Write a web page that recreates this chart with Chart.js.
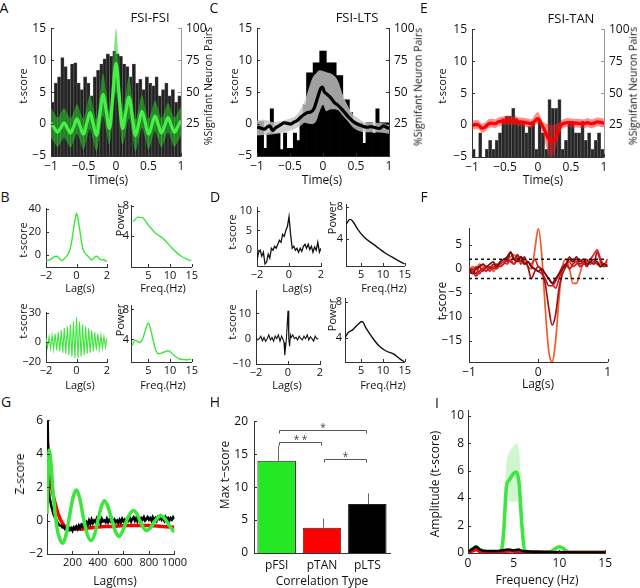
<!DOCTYPE html>
<html><head><meta charset="utf-8">
<script src="https://cdn.jsdelivr.net/npm/chart.js@4.4.1/dist/chart.umd.min.js"></script>
<style>
html,body{margin:0;padding:0;background:#fff;}
#fig{position:relative;width:640px;height:588px;overflow:hidden;background:#fff;font-family:'Open Sans','Noto Sans',sans-serif;color:#111;}
.t{position:absolute;white-space:nowrap;transform:translate(-50%,-50%);line-height:1;}
.r{transform:translate(-50%,-50%) rotate(-90deg);}
canvas{position:absolute;}
</style></head><body><div id="fig"></div>
<script>
// ---------------- DATA ----------------
const HIST_T = [-0.975,-0.925,-0.875,-0.825,-0.775,-0.725,-0.675,-0.625,-0.575,-0.525,-0.475,-0.425,-0.375,-0.325,-0.275,-0.225,-0.175,-0.125,-0.075,-0.025,0.025,0.075,0.125,0.175,0.225,0.275,0.325,0.375,0.425,0.475,0.525,0.575,0.625,0.675,0.725,0.775,0.825,0.875,0.925,0.975];
const T41 = [-1,-0.95,-0.9,-0.85,-0.8,-0.75,-0.7,-0.65,-0.6,-0.55,-0.5,-0.45,-0.4,-0.35,-0.3,-0.25,-0.2,-0.15,-0.1,-0.05,0,0.05,0.1,0.15,0.2,0.25,0.3,0.35,0.4,0.45,0.5,0.55,0.6,0.65,0.7,0.75,0.8,0.85,0.9,0.95,1];
const LAG41 = [-2,-1.9,-1.8,-1.7,-1.6,-1.5,-1.4,-1.3,-1.2,-1.1,-1,-0.9,-0.8,-0.7,-0.6,-0.5,-0.4,-0.3,-0.2,-0.1,0,0.1,0.2,0.3,0.4,0.5,0.6,0.7,0.8,0.9,1,1.1,1.2,1.3,1.4,1.5,1.6,1.7,1.8,1.9,2];

// A: FSI-FSI
const A_SIG_PCT = [42,57,62,77,70,60,72,73,57,52,62,57,47,62,67,72,76,80,78,82,80,78,72,70,62,72,57,60,52,62,57,55,62,47,52,57,47,52,42,47];
const A_MEAN = [0.2,-0.6,-1.3,-0.6,0.2,-0.6,-1.4,-0.4,0.8,-0.4,-1.6,0.1,1.8,0.0,-1.8,1.4,4.6,2.0,-0.7,4.4,9.5,4.4,-0.7,1.8,4.2,1.2,-1.8,0.1,2.0,0.2,-1.6,-0.2,1.3,-0.1,-1.4,-0.2,1.0,-0.2,-1.3,-0.4,0.5];
const A_UP = [2.5,1.7,1.0,1.7,2.5,1.7,0.9,1.9,3.1,1.9,0.8,2.7,4.6,2.6,0.7,4.3,7.9,5.0,1.9,8.4,15.0,8.4,1.9,4.8,7.5,4.0,0.7,2.6,4.6,2.6,0.8,2.2,3.7,2.3,0.9,2.1,3.3,2.1,1.0,1.9,2.8];
const A_LO = [-2.1,-2.9,-3.6,-2.9,-2.1,-2.9,-3.7,-2.7,-1.5,-2.7,-4.0,-2.3,-0.8,-2.6,-4.3,-1.5,1.3,-1.0,-3.3,0.9,5.0,0.9,-3.3,-1.2,0.9,-1.6,-4.3,-2.4,-0.6,-2.2,-4.0,-2.6,-1.1,-2.5,-3.7,-2.5,-1.3,-2.5,-3.6,-2.7,-1.8];

// C: FSI-LTS
const C_SIG_PCT = [27,27,6,18,37,18,18,5,18,6,6,18,12,30,40,65,65,73,73,82,82,73,73,73,63,63,44,44,34,26,26,26,10,26,26,18,37,26,26,26];
const C_MEAN_T = [-1,-0.95,-0.89,-0.85,-0.81,-0.76,-0.72,-0.69,-0.64,-0.59,-0.54,-0.49,-0.44,-0.385,-0.335,-0.285,-0.234,-0.184,-0.133,-0.083,-0.033,-0.008,0.018,0.068,0.118,0.169,0.219,0.27,0.32,0.395,0.47,0.52,0.57,0.62,0.67,0.72,0.77,0.85,0.92,0.96,1];
const C_MEAN = [-0.5,-0.6,-0.8,-0.5,-0.3,-1.0,-0.6,-0.4,-0.1,0.2,0.1,0.0,0.3,0.6,1.1,1.5,1.8,1.9,2.5,4.1,5.6,5.8,5.1,4.6,4.1,3.4,3.0,2.5,1.9,1.0,0.3,0.0,-0.2,-0.4,-0.5,-0.4,-0.5,-0.7,-0.3,-0.5,-0.7];
const C_BAND_T = [-1,-0.9,-0.75,-0.55,-0.4,-0.33,-0.28,-0.23,-0.16,-0.1,-0.05,0,0.05,0.12,0.22,0.3,0.37,0.45,0.55,0.65,0.8,1];
const C_UP = [0.5,0.7,0.3,0.7,1.4,2.5,3.5,5.1,7.2,8.0,8.4,8.3,8.1,7.9,6.9,4.6,3.0,1.6,0.8,0.2,0.2,0.0];
const C_LO = [-1.8,-1.7,-1.6,-1.2,-0.6,-0.2,0.2,0.1,0.0,0.5,2.0,3.0,2.0,2.3,2.2,1.3,0.5,-0.5,-1.1,-1.3,-1.3,-1.5];

// E: FSI-TAN
const E_SIG_PCT = [6,0,19,0,6,13,6,13,19,30,32,32,38,30,28,28,19,24,28,6,28,19,6,45,38,38,45,6,13,28,28,19,19,28,13,19,6,13,19,6];
const E_MEAN = [-0.1,0.1,0.0,-0.5,-0.3,0.2,0.3,0.2,0.5,0.6,0.7,0.8,0.6,0.8,0.5,0.5,0.4,0.3,0.2,0.6,1.0,0.2,-0.8,-2.0,-2.5,-2.3,-1.2,0.0,0.3,0.4,0.3,0.3,0.3,0.2,0.2,0.4,0.2,0.3,0.5,0.4,0.3];
const E_UP = [0.6,0.8,0.7,0.2,0.4,0.9,1.0,0.9,1.2,1.3,1.4,1.5,1.3,1.5,1.2,1.2,1.1,1.0,0.9,1.6,2.0,1.0,0.3,0.2,0.0,0.1,0.3,0.7,1.0,1.1,1.0,1.0,1.0,0.9,0.9,1.1,0.9,1.0,1.2,1.1,1.0];
const E_LO = [-0.8,-0.6,-0.7,-1.2,-1.0,-0.5,-0.4,-0.5,-0.2,-0.1,0.0,0.1,-0.1,0.1,-0.2,-0.2,-0.3,-0.4,-0.5,-0.1,0.3,-0.5,-2.5,-4.2,-5.2,-4.2,-2.4,-0.8,-0.4,-0.3,-0.4,-0.4,-0.4,-0.5,-0.5,-0.3,-0.5,-0.4,-0.2,-0.3,-0.4];

// B: example FSI pairs
const B1_T = [-4.8,-4.5,-4.0,-3.5,-2.5,-1.5,-0.9,-0.8,-1.5,-3.0,-4.5,-4.2,-3.0,-1.5,0.0,2.5,6.5,13,22,30,36,31,23,14,6.5,3.0,1.0,0.0,-1.5,-3.0,-4.0,-3.0,-1.5,-0.8,-1.5,-3.0,-3.5,-4.2,-3.5,-5.0,-4.5];
const B2_POWER = [[1.5,5.9],[2.6,6.5],[3.7,6.4],[5.2,5.3],[6.7,4.4],[8.2,3.8],[9.6,3.0],[11.1,2.1],[12.6,1.4],[14.0,1.0],[14.9,0.8]];
const B3_T = [4.5,-5,5.5,-6,7,-7,8.5,-8,10,-9,12,-10.5,14,-11.5,16,-13,18,-14.5,21,-16,25,-16,21,-14.5,18,-13,16,-11.5,14,-10.5,12,-9,10,-8,8.5,-7,7,-6,5.5,-5,4.5];
const B4_POWER = [[1.3,3.2],[1.9,3.9],[3.0,3.6],[3.7,4.1],[4.5,5.6],[5.0,6.2],[5.6,5.2],[6.1,3.9],[6.7,2.6],[7.4,2.1],[8.5,2.3],[9.6,2.5],[10.7,2.0],[12.2,1.4],[13.7,1.3],[14.9,1.35]];

// D: example FSI-LTS pairs
const D1_T = [-2.5,-0.5,0.0,-1.5,-0.5,-3.5,-3.0,-1.0,-2.0,0.5,0.0,1.0,0.5,1.5,2.5,2.0,4.0,3.5,5.0,6.0,8.5,4.0,0.5,1.0,0.0,0.5,-0.5,0.5,-0.3,1.0,1.5,0.5,1.5,0.2,1.0,-0.5,0.8,0.0,2.0,-0.5,0.5];
const D2_POWER = [[1.5,5.8],[2.4,6.45],[3.0,6.25],[4.2,5.2],[5.7,4.2],[7.6,3.4],[9.1,2.8],[10.6,2.2],[12.8,1.5],[15,0.85]];
const D3_T = [[-2,0.5],[-1.9,-0.5],[-1.8,0],[-1.7,1],[-1.6,-0.8],[-1.5,0.5],[-1.4,-1],[-1.3,0],[-1.2,1.5],[-1.1,-0.5],[-1.0,0.5],[-0.9,-1],[-0.8,1],[-0.7,0],[-0.6,1.5],[-0.5,-1],[-0.4,1],[-0.3,-0.5],[-0.25,-1.5],[-0.2,-6.5],[-0.1,0],[0,11],[0.05,0],[0.1,-3],[0.15,1.5],[0.2,0.5],[0.3,1.5],[0.4,0],[0.5,0.5],[0.6,-0.5],[0.7,1],[0.8,0],[0.9,-0.5],[1.0,1],[1.1,0],[1.2,1.5],[1.3,-0.5],[1.4,0.8],[1.5,0],[1.6,-1],[1.7,1],[1.8,0],[1.9,0]];
const D4_POWER = [[1.3,4.0],[2.0,4.55],[3.1,4.9],[4.2,5.45],[5.2,5.8],[6.1,5.1],[7.6,4.0],[9.1,3.1],[10.6,2.55],[12.4,2.2],[13.9,1.65],[15,1.3]];

// F: FSI-TAN examples
const F_ORANGE = [-0.5,0.5,0,1,0.5,0,0.5,-0.5,0.5,1,1.5,2.5,2.5,3,2,2.5,1.5,0.5,0,4,8.5,3,-8,-17,-19.5,-15,-6,0.5,2,0,-3,-3,-1,1,1,1.5,1,1.5,1,1,1.5];
const F_DARK = [-1,0,-1,0.5,-0.5,0.5,0,1,0.5,1.5,2,1.5,3.5,2,3,1.5,2.5,0.5,-2,-0.5,0.5,-0.5,-3,-8,-11.7,-9.5,-4,-1,0.5,2.5,1.5,2,1,1.5,0.5,1.5,1,3.5,1.5,0.5,1];
const F_RED = [0.5,-0.5,0.5,-1,0,0.5,-0.5,0.5,0,1,1.5,1,2,1,2.5,1,2,1.5,1,2,0.5,0,-1,-2,-3,-4,-2,0,1,1.5,0.5,1,2,1,1.5,2,3,4,2,1,2];
const F_CRIMSON = [-1,-0.5,-1.5,-0.5,0,-0.5,0.5,0,1,0.5,1,2,1.5,1,2,2.5,1,1.5,0.5,0,-0.5,-1,-2,-3.5,-3.5,-2.5,-1,0.5,1,0,1,1.5,0.5,1,2,1,1.5,1,0.5,1,0.5];
const F_MAROON = [0,-1,0,0.5,1,0.5,1,1.5,0.5,1.5,2,2.5,3.5,2,1.5,2.5,1,1.5,0.5,0,-0.5,0,-1,-2,-3,-2,-1,0,1,2,1.5,2.5,1.5,2,1,1.5,2,1.5,0.5,1,0.5];
const F_THRESH = [2, -2];

// G: autocorrelation (Z-score vs lag ms)
const G_LTS = [[2,2],[5,6],[10,3.5],[15,1.8],[20,1.4],[30,1.0],[40,0.7],[50,0.4],[60,0.2],[70,0.1],[80,-0.1],[90,-0.2],[100,-0.3],[110,-0.3],[120,-0.4],[130,-0.35],[140,-0.5],[150,-0.45],[160,-0.6],[170,-0.4],[180,-0.55],[190,-0.45],[200,-0.6],[210,-0.4],[220,-0.5],[230,-0.35],[240,-0.5],[250,-0.3],[260,-0.45],[270,-0.25],[280,-0.35],[290,-0.15],[300,-0.3],[310,-0.1],[320,-0.25],[330,0.0],[340,-0.2],[350,0.05],[360,-0.15],[370,0.0],[380,-0.1],[390,0.1],[400,-0.1],[410,0.05],[420,-0.15],[430,0.1],[440,-0.05],[450,0.0],[460,-0.1],[470,0.1],[480,-0.1],[490,0.05],[500,-0.05],[510,0.1],[520,-0.1],[530,0.05],[540,-0.1],[550,0.0],[560,-0.15],[570,0.05],[580,-0.1],[590,0.1],[600,-0.05],[610,0.05],[620,-0.1],[630,0.1],[640,0.0],[650,0.15],[660,-0.05],[670,0.1],[680,0.2],[690,0.0],[700,0.15],[710,-0.05],[720,0.1],[730,0.0],[740,0.15],[750,0.05],[760,0.2],[770,0.0],[780,0.1],[790,0.2],[800,0.05],[810,0.15],[820,0.0],[830,0.2],[840,0.05],[850,0.15],[860,0.0],[870,0.2],[880,0.1],[890,0.25],[900,0.05],[910,0.15],[920,0.0],[930,0.2],[940,0.05],[950,0.15],[960,0.0],[970,0.15],[980,0.05],[990,0.2],[1000,0.1]];
const G_TAN = [[0,5],[5,4.5],[10,4.0],[17,3.3],[25,2.7],[35,2.1],[42,1.8],[55,1.3],[72,0.8],[90,0.35],[109,0.0],[130,-0.25],[147,-0.4],[180,-0.5],[220,-0.5],[271,-0.5],[320,-0.45],[380,-0.4],[450,-0.35],[520,-0.35],[600,-0.3],[700,-0.3],[800,-0.3],[900,-0.35],[1000,-0.4]];
const G_FSI = [[0,0.4],[8,2.5],[17,4.2],[30,3.5],[50,1.5],[75,-0.3],[100,-1.1],[122,-1.35],[145,-1.0],[175,0.2],[205,1.4],[229,1.83],[255,1.4],[285,0.2],[315,-0.8],[346,-1.19],[375,-0.8],[405,0.2],[430,0.9],[450,1.19],[475,0.9],[510,0.0],[540,-0.7],[567,-0.95],[595,-0.6],[625,0.0],[655,0.45],[679,0.6],[705,0.4],[740,-0.2],[779,-0.6],[815,-0.4],[850,0.0],[880,0.25],[891,0.3],[920,0.15],[960,-0.3],[1000,-0.7]];

// H: max t-score by correlation type
const H_CATS = ['pFSI','pTAN','pLTS'];
const H_VALUES = [14.0, 3.85, 7.45];
const H_SEM = [2.3, 1.35, 1.6];
const H_SIG = [[0,2,18.6,'*'],[0,1,16.9,'* *'],[1,2,14.2,'*']];

// I: amplitude spectrum
const I_FSI = [[0,0],[0.5,0.3],[0.9,0.45],[1.3,0.25],[2,0.1],[3,0.08],[3.6,0.1],[3.9,1.5],[4.2,4.8],[4.5,5.3],[5.0,5.8],[5.3,5.9],[5.6,5.0],[5.9,2.0],[6.2,0.2],[7,0.05],[8,0.05],[9,0.1],[9.5,0.3],[10,0.45],[10.5,0.3],[11,0.05],[12,0.05],[15,0.05]];
const I_BAND_F = [3.6,3.9,4.2,4.5,5.0,5.3,5.6,5.9,6.2];
const I_BAND_UP = [0.1,3.0,6.5,7.3,7.8,8.0,7.4,3.5,0.3];
const I_BAND_LO = [0.1,0.5,3.0,3.8,3.7,3.8,3.0,0.8,0.1];
const I_TAN = [[0,0],[0.5,0.15],[0.9,0.25],[1.3,0.1],[2,0.05],[3,0.05],[4,0.12],[4.5,0.15],[5,0.15],[5.5,0.12],[6,0.1],[7,0.05],[8,0.05],[10,0.03],[12,0.03],[15,0.03]];
const I_LTS = [[0,0.1],[0.5,0.3],[0.9,0.45],[1.3,0.25],[2,0.15],[3,0.15],[4,0.22],[4.5,0.25],[5,0.2],[5.5,0.25],[6,0.15],[7,0.1],[8,0.08],[9,0.07],[10,0.05],[12,0.04],[15,0.04]];

// tick values
const TK_TIME = [-1,-0.5,0,0.5,1];
const TK_TSCORE = [-5,0,5,10,15];
const TK_PCT = [25,50,75,100];
const TK_LAG2 = [-2,0,2];
const TK_FREQ = [5,10,15];
const TK_POW = [4,8];
const TK_B1Y = [0,20,40];
const TK_B3Y = [-20,0,30];
const TK_D1Y = [0,5,10];
const TK_D3Y = [-10,0,10];
const TK_F_X = [-1,0,1];
const TK_F_Y = [-15,-10,-5,0,5];
const TK_G_X = [200,400,600,800,1000];
const TK_G_Y = [-2,0,2,4,6];
const TK_H_Y = [0,5,10,15,20];
const TK_I_X = [0,5,10,15];
const TK_I_Y = [0,2,4,6,8,10];

// ---------------- RENDER ----------------
const FONT = "'Open Sans','Noto Sans',sans-serif";
Chart.defaults.font.family = FONT;
Chart.defaults.font.size = 11;
Chart.defaults.color = '#111';
Chart.defaults.animation = false;
Chart.defaults.plugins.legend.display = false;
Chart.defaults.plugins.tooltip.enabled = false;
Chart.defaults.elements.point.radius = 0;
const fig = document.getElementById('fig');

function fmt(v){ return v < 0 ? '\u2212' + Math.abs(v) : String(v); }
function xy(xs, ys){ return xs.map((x,i)=>({x:x, y:ys[i]})); }
function pairs(a){ return a.map(p=>({x:p[0], y:p[1]})); }

const inTicks = { id:'inTicks', afterDraw(chart){
  const ctx = chart.ctx, a = chart.chartArea;
  ctx.save(); ctx.lineWidth = 1;
  for (const s of Object.values(chart.scales)) {
    const L = s.options.inTick; if (!L) continue;
    ctx.strokeStyle = s.options.border.color;
    for (const t of s.ticks) {
      const p = Math.round(s.getPixelForValue(t.value)) + 0.5;
      ctx.beginPath();
      if (s.position === 'bottom') { ctx.moveTo(p, a.bottom); ctx.lineTo(p, a.bottom - L); }
      else if (s.position === 'left') { ctx.moveTo(a.left, p); ctx.lineTo(a.left + L, p); }
      else { ctx.moveTo(a.right, p); ctx.lineTo(a.right - L, p); }
      ctx.stroke();
    }
  }
  ctx.restore();
}};

function lin(pos, min, max, ticks, size, o){
  o = o || {};
  return {
    type:'linear', position:pos, min:min, max:max, offset:false,
    grid:{display:false, drawTicks:false, drawOnChartArea:false},
    border:{display:true, color:o.border || '#333', width:1},
    ticks:{padding:(o.pad!==undefined?o.pad:4), autoSkip:false, maxRotation:0, minRotation:0, font:{size:o.fs||11}, color:'#111', callback:(v)=>fmt(v)},
    afterBuildTicks:(s)=>{ s.ticks = ticks.map(v=>({value:v})); },
    afterFit:(s)=>{ if (pos==='bottom') s.height = size; else s.width = size; },
    inTick:(o.inTick!==undefined?o.inTick:3)
  };
}

function make(rect, pad, cfg, hasRight){
  const c = document.createElement('canvas');
  const w = rect.r - rect.l + pad.l + pad.r, h = rect.b - rect.t + pad.t + pad.b;
  c.width = w; c.height = h;
  c.style.left = (rect.l - pad.l) + 'px'; c.style.top = (rect.t - pad.t) + 'px';
  c.style.width = w + 'px'; c.style.height = h + 'px';
  fig.appendChild(c);
  cfg.options = Object.assign({responsive:false, maintainAspectRatio:false, devicePixelRatio:1, animation:false,
    layout:{autoPadding:false, padding:{top:pad.t, left:0, bottom:0, right:hasRight?0:pad.r}}}, cfg.options);
  cfg.plugins = [inTicks].concat(cfg.plugins || []);
  return new Chart(c, cfg);
}

function ln(data, color, width, extra){
  return Object.assign({type:'line', data:data, borderColor:color, borderWidth:width, pointRadius:0, fill:false, cubicInterpolationMode:'monotone'}, extra || {});
}
function band(up, lo, color, order){
  return [
    {type:'line', data:up, borderColor:'transparent', borderWidth:0, pointRadius:0, fill:'+1', backgroundColor:color, cubicInterpolationMode:'monotone', order:order},
    {type:'line', data:lo, borderColor:'transparent', borderWidth:0, pointRadius:0, fill:false, cubicInterpolationMode:'monotone', order:order}
  ];
}

// ---- A, C, E ----
function ccg(rect, pct, barBg, barBd, barBw, meanXY, upXY, loXY, lineColor, bandColor, rightBorder){
  const ds = [{type:'bar', data:xy(HIST_T, pct), yAxisID:'y1', backgroundColor:barBg, borderColor:barBd, borderWidth:barBw, barPercentage:1, categoryPercentage:1, order:3}];
  band(upXY, loXY, bandColor, 2).forEach(d=>ds.push(d));
  ds.push(ln(meanXY, lineColor, 3.2, {order:1}));
  return make(rect, {l:34, r:34, t:10, b:22}, {
    type:'bar', data:{datasets:ds},
    options:{scales:{
      x: lin('bottom', -1, 1, TK_TIME, 22, {pad:3, fs:12}),
      y: lin('left', -5, 15, TK_TSCORE, 34, {pad:5, fs:12}),
      y1: lin('right', 0, 100, TK_PCT, 34, {pad:5, fs:12, border:rightBorder})
    }}
  }, true);
}
ccg({l:51, r:181, t:26, b:156}, A_SIG_PCT, '#222', 'rgba(85,85,85,1)', 0.7,
    xy(T41, A_MEAN), xy(T41, A_UP), xy(T41, A_LO), 'rgb(70,240,70)', 'rgba(40,205,40,0.55)', '#999');
ccg({l:257, r:389, t:26, b:156}, C_SIG_PCT, '#000', '#000', 0,
    xy(C_MEAN_T, C_MEAN), xy(C_BAND_T, C_UP), xy(C_BAND_T, C_LO), '#000', 'rgba(197,197,197,0.82)', '#333');
ccg({l:472, r:604, t:27, b:157}, E_SIG_PCT, '#262626', 'rgba(95,95,95,1)', 0.7,
    xy(T41, E_MEAN), xy(T41, E_UP), xy(T41, E_LO), 'rgb(255,0,0)', 'rgba(255,30,30,0.5)', '#999');

// ---- small panels B, D ----
function small(rect, xr, yr, xt, yt, datasets, ypad){
  return make(rect, {l:30, r:6, t:8, b:18}, {
    type:'line', data:{datasets:datasets},
    options:{scales:{
      x: lin('bottom', xr[0], xr[1], xt, 18, {pad:2, fs:11}),
      y: lin('left', yr[0], yr[1], yt, 30, {pad:ypad, fs:11})
    }}
  });
}
const GREEN = 'rgb(60,230,60)';
small({l:46, r:107, t:205, b:267}, [-2,2], [-10,40], TK_LAG2, TK_B1Y, [ln(xy(LAG41, B1_T), GREEN, 1.4)], 5);
small({l:131, r:194, t:205, b:267}, [1,15], [0,8], TK_FREQ, TK_POW, [ln(pairs(B2_POWER), GREEN, 1.4)], 2);
small({l:46, r:107, t:309, b:362}, [-2,2], [-20,30], TK_LAG2, TK_B3Y, [ln(xy(LAG41, B3_T), GREEN, 1.1, {cubicInterpolationMode:'default', tension:0})], 5);
small({l:131, r:194, t:305, b:362}, [1,15], [1,8.5], TK_FREQ, TK_POW, [ln(pairs(B4_POWER), GREEN, 1.4)], 2);
small({l:257, r:321, t:204, b:266}, [-2,2], [-4,10.8], TK_LAG2, TK_D1Y, [ln(xy(LAG41, D1_T), '#111', 1.3, {cubicInterpolationMode:'default', tension:0})], 5);
small({l:346, r:407, t:203, b:266}, [1.5,15], [0.6,8.3], TK_FREQ, TK_POW, [ln(pairs(D2_POWER), '#111', 1.4)], 3);
small({l:256, r:320, t:287, b:364}, [-2,2], [-10,19], TK_LAG2, TK_D3Y, [ln(pairs(D3_T), '#111', 1.1, {cubicInterpolationMode:'default', tension:0})], 5);
small({l:345, r:407, t:297, b:362}, [1.3,15], [1.3,8.35], TK_FREQ, TK_POW, [ln(pairs(D4_POWER), '#111', 1.4)], 3);

// ---- F ----
make({l:469, r:608, t:222, b:362}, {l:34, r:6, t:8, b:20}, {
  type:'line', data:{datasets:[
    ln([{x:-1,y:F_THRESH[0]},{x:1,y:F_THRESH[0]}], '#111', 1.5, {borderDash:[3,3], order:0}),
    ln([{x:-1,y:F_THRESH[1]},{x:1,y:F_THRESH[1]}], '#111', 1.5, {borderDash:[3,3], order:0}),
    ln(xy(T41, F_MAROON), 'rgb(120,10,10)', 1.7, {order:1}),
    ln(xy(T41, F_RED), 'rgb(225,30,30)', 1.7, {order:2}),
    ln(xy(T41, F_CRIMSON), 'rgb(190,20,40)', 1.7, {order:3}),
    ln(xy(T41, F_DARK), 'rgb(160,20,20)', 1.7, {order:4}),
    ln(xy(T41, F_ORANGE), 'rgb(240,90,40)', 1.7, {order:5})
  ]},
  options:{scales:{
    x: lin('bottom', -1, 1, TK_F_X, 20, {pad:3, fs:12}),
    y: lin('left', -19.4, 8.5, TK_F_Y, 34, {pad:7, fs:12})
  }}
});

// ---- G ----
make({l:47, r:181, t:419, b:554}, {l:34, r:8, t:10, b:22}, {
  type:'line', data:{datasets:[
    ln(pairs(G_FSI), GREEN, 3.5, {order:1}),
    ln(pairs(G_LTS), '#000', 2.5, {order:2, cubicInterpolationMode:'default', tension:0}),
    ln(pairs(G_TAN), 'rgb(255,0,0)', 3.5, {order:3})
  ]},
  options:{scales:{
    x: lin('bottom', 0, 1000, TK_G_X, 22, {pad:2, fs:11}),
    y: lin('left', -2, 6, TK_G_Y, 34, {pad:4, fs:12})
  }}
});

// ---- H ----
const hDecor = { id:'hDecor', afterDatasetsDraw(chart){
  const ctx = chart.ctx, x = chart.scales.x, y = chart.scales.y;
  ctx.save(); ctx.strokeStyle = '#666'; ctx.lineWidth = 1;
  H_VALUES.forEach((v,i)=>{
    const px = Math.round(x.getPixelForValue(i)) + 1.5;
    ctx.beginPath(); ctx.moveTo(px, y.getPixelForValue(v)); ctx.lineTo(px, y.getPixelForValue(v + H_SEM[i])); ctx.stroke();
  });
  ctx.strokeStyle = '#555'; ctx.fillStyle = '#444';
  ctx.font = '10px ' + FONT; ctx.textAlign = 'center'; ctx.textBaseline = 'alphabetic';
  H_SIG.forEach(s=>{
    const x1 = Math.round(x.getPixelForValue(s[0])) + 2.5, x2 = Math.round(x.getPixelForValue(s[1])) - 0.5;
    const py = Math.round(y.getPixelForValue(s[2])) + 0.5;
    ctx.beginPath(); ctx.moveTo(x1, py + 3); ctx.lineTo(x1, py); ctx.lineTo(x2, py); ctx.lineTo(x2, py + 3); ctx.stroke();
    ctx.fillText(s[3], (x1 + x2) / 2, py);
  });
  ctx.restore();
}};
make({l:254, r:390, t:418, b:553}, {l:34, r:8, t:10, b:22}, {
  type:'bar', data:{labels:H_CATS, datasets:[{data:H_VALUES, backgroundColor:['rgb(35,232,35)','rgb(255,0,0)','#000'], borderColor:'#222', borderWidth:1, barPercentage:0.85, categoryPercentage:1}]},
  options:{scales:{
    x:{type:'category', position:'bottom', offset:true, grid:{display:false, drawTicks:false}, border:{display:true, color:'#333', width:1},
       ticks:{padding:5, font:{size:12}, color:'#111'}, afterFit:(s)=>{ s.height = 22; }},
    y: lin('left', 0, 20, TK_H_Y, 34, {pad:6, fs:12})
  }},
  plugins:[hDecor]
});

// ---- I ----
(function(){
  const ds = band(xy(I_BAND_F, I_BAND_UP), xy(I_BAND_F, I_BAND_LO), 'rgba(120,230,120,0.35)', 5);
  ds.push(ln(pairs(I_FSI), GREEN, 3.5, {order:4}));
  ds.push(ln(pairs(I_TAN), 'rgb(255,0,0)', 3.5, {order:3}));
  ds.push(ln(pairs(I_LTS), '#000', 2.5, {order:2}));
  make({l:468, r:607, t:409, b:553}, {l:34, r:8, t:10, b:22}, {
    type:'line', data:{datasets:ds},
    options:{scales:{
      x: lin('bottom', 0, 15, TK_I_X, 22, {pad:3, fs:12}),
      y: lin('left', 0, 10.4, TK_I_Y, 34, {pad:4, fs:12})
    }}
  });
})();

// ---------------- TEXT ----------------
const TEXTS = [
  ['A',4,8,14,0],['B',5,197,14,0],['C',214,8,14,0],['D',215,197,14,0],['E',424,8,14,0],['F',424,197,14,0],['G',6,402,14,0],['H',215,402,14,0],['I',437,403,14,0],
  ['FSI-FSI',150,17,13,0],['FSI-LTS',357,17,13,0],['FSI-TAN',571,18,13,0],
  ['Time(s)',108,180,12,0],['Time(s)',322,180,12,0],['Time(s)',543,180,12,0],
  ['t-score',22,86,11,1],['t-score',233,86,11,1],['t-score',441,86,11,1],
  ['%Signifant Neuron Pairs',208,86,10.5,1],['%Signifant Neuron Pairs',418,87,10.5,1],['%Signifant Neuron Pairs',633,86,10.5,1],
  ['Lag(s)',80,287,11,0],['Freq.(Hz)',163,287,11,0],['Lag(s)',80,384,11,0],['Freq.(Hz)',163,384,11,0],
  ['Lag(s)',297,287,11,0],['Freq.(Hz)',384,287,11,0],['Lag(s)',287,384,11,0],['Freq.(Hz)',383,384,11,0],
  ['t-score',22,240,11,1],['Power',119,220,11,1],['t-score',22,321,11,1],['Power',119,320,11,1],
  ['t-score',231,232,11,1],['Power',331,218,11,1],['t-score',231,322,11,1],['Power',331,315,11,1],
  ['Lag(s)',538,384,12,0],['t-score',442,301,12,1],
  ['Lag(ms)',115,581,12,0],['Z-score',20,474,12,1],
  ['Correlation Type',322,581,12,0],['Max t\u2212score',225,475,12,1],
  ['Frequency (Hz)',537,580,12,0],['Amplitude (t-score)',435,484,12,1]
];
TEXTS.forEach(t=>{
  const d = document.createElement('div');
  d.className = 't' + (t[4] ? ' r' : '');
  d.textContent = t[0];
  d.style.left = t[1] + 'px'; d.style.top = t[2] + 'px'; d.style.fontSize = t[3] + 'px';
  fig.appendChild(d);
});
</script></body></html>
